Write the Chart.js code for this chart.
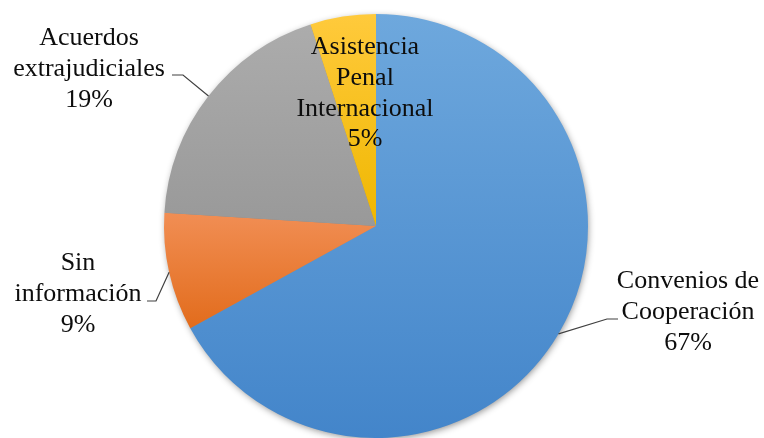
<!DOCTYPE html>
<html>
<head>
<meta charset="utf-8">
<script src="https://cdn.jsdelivr.net/npm/chart.js@4.4.0/dist/chart.umd.min.js"></script>
<style>
  html, body { margin: 0; padding: 0; background: #fff; }
</style>
</head>
<body>
<canvas id="tortaChart" width="764" height="438"></canvas>
<script>
const categorias = [['Convenios de', 'Cooperación'], ['Sin', 'información'], ['Acuerdos', 'extrajudiciales'], ['Asistencia', 'Penal', 'Internacional']];
const porcentajes = [67, 9, 19, 5];
const colorArriba = ['#6ea8dd', '#f18e54', '#acacac', '#ffca3c'];
const colorAbajo = ['#4385ca', '#e26c1c', '#999999', '#efb700'];

// donde van los textos: centro x, primera linea base y, codo y fin de la linea guia
const posEtiquetas = [
  { x: 688, y: 288, codo: [607, 319], fin: [618, 319] },
  { x: 78, y: 270, codo: [156, 301], fin: [147, 301] },
  { x: 89, y: 45, codo: [183, 75], fin: [172, 75] },
  { x: 365, y: 54, codo: null, fin: null }
];
const interlinea = 30.8;

function degradado(c) {
  const i = c.dataIndex;
  const area = c.chart.chartArea;
  if (!area || i === undefined) return colorAbajo[i || 0];
  const cx = (area.left + area.right) / 2, cy = (area.top + area.bottom) / 2;
  const r = Math.min(area.right - area.left, area.bottom - area.top) / 2;
  const total = porcentajes.reduce((a, b) => a + b, 0);
  let acum = 0;
  for (let k = 0; k < i; k++) acum += porcentajes[k];
  const a0 = -Math.PI / 2 + 2 * Math.PI * acum / total;
  const a1 = a0 + 2 * Math.PI * porcentajes[i] / total;
  const ys = [cy, cy + r * Math.sin(a0), cy + r * Math.sin(a1)];
  if (a0 < Math.PI / 2 && a1 > Math.PI / 2) ys.push(cy + r);
  const g = c.chart.ctx.createLinearGradient(0, Math.min(...ys), 0, Math.max(...ys));
  g.addColorStop(0, colorArriba[i]);
  g.addColorStop(1, colorAbajo[i]);
  return g;
}

const sombra = {
  id: 'sombra',
  beforeDatasetsDraw(chart) {
    const arc = chart.getDatasetMeta(0).data[0];
    if (!arc) return;
    const { x, y, outerRadius } = arc.getProps(['x', 'y', 'outerRadius'], true);
    const ctx = chart.ctx;
    ctx.save();
    ctx.shadowColor = 'rgba(0,0,0,0.45)';
    ctx.shadowBlur = 7;
    ctx.shadowOffsetX = 1;
    ctx.shadowOffsetY = 2;
    ctx.fillStyle = '#888';
    ctx.beginPath();
    ctx.arc(x, y, outerRadius - 1, 0, Math.PI * 2);
    ctx.fill();
    ctx.restore();
  }
};

const etiquetas = {
  id: 'etiquetas',
  afterDatasetsDraw(chart) {
    const ctx = chart.ctx;
    const meta = chart.getDatasetMeta(0);
    ctx.save();
    ctx.font = '26px "Liberation Serif", "Times New Roman", serif';
    ctx.textAlign = 'center';
    ctx.textBaseline = 'alphabetic';
    meta.data.forEach((arc, i) => {
      const p = arc.getProps(['x', 'y', 'startAngle', 'endAngle', 'outerRadius'], true);
      const pos = posEtiquetas[i];
      if (pos.codo) {
        const mid = (p.startAngle + p.endAngle) / 2;
        ctx.strokeStyle = '#404040';
        ctx.lineWidth = 1.2;
        ctx.beginPath();
        ctx.moveTo(p.x + p.outerRadius * Math.cos(mid), p.y + p.outerRadius * Math.sin(mid));
        ctx.lineTo(pos.codo[0], pos.codo[1]);
        ctx.lineTo(pos.fin[0], pos.fin[1]);
        ctx.stroke();
      }
      const lineas = categorias[i].concat([porcentajes[i] + '%']);
      ctx.fillStyle = '#0d0d0d';
      lineas.forEach((t, j) => ctx.fillText(t, pos.x, pos.y + j * interlinea));
    });
    ctx.restore();
  }
};

new Chart(document.getElementById('tortaChart').getContext('2d'), {
  type: 'pie',
  data: {
    labels: categorias.map(c => c.join(' ')),
    datasets: [{
      data: porcentajes,
      backgroundColor: degradado,
      borderWidth: 0,
      hoverOffset: 0
    }]
  },
  options: {
    responsive: false,
    animation: false,
    layout: { padding: { left: 164, right: 176, top: 14, bottom: 0 } },
    plugins: {
      legend: { display: false },
      tooltip: { enabled: false }
    }
  },
  plugins: [sombra, etiquetas]
});
</script>
</body>
</html>
